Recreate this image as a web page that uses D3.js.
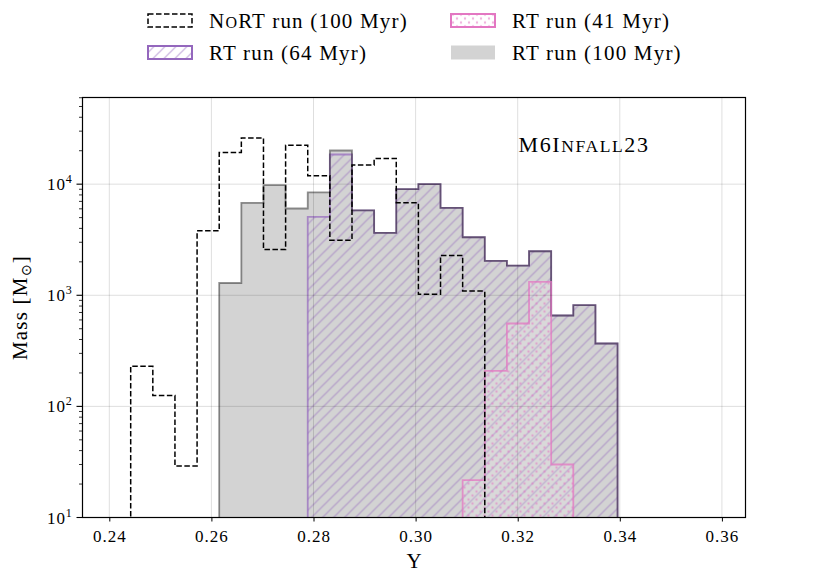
<!DOCTYPE html>
<html>
    <head>
        <script src="https://d3js.org/d3.v7.min.js"></script>
    </head>

    <body style="margin:0;background:#fff">
        <svg id="hist" width="830" height="575"></svg>
    </body>

    <script>

        // bin grid: 22 equal bins starting at binStart
        var binStart = 0.24419
        var binWidth = 0.004335
        var nBins = 22

        // masses per bin (Msun), with index of first bin
        var noRTStart = 0
        var noRT = [230, 125, 29, 3800, 19300, 26100, 2580, 22400, 11900, 3130, 14900, 17000, 6790, 1020, 2280, 1090]
        var rt100Start = 4
        var rt100 = [1290, 6790, 9800, 6040, 8420, 20100, 5800, 3650, 9020, 10000, 6120, 3330, 2040, 1850, 2490, 658, 815, 368]
        var rt64Start = 8
        var rt64 = [5080, 18500, 5800, 3650, 9020, 10000, 6120, 3330, 2040, 1850, 2490, 658, 815, 368]
        var rt41Start = 15
        var rt41 = [21.7, 209, 557, 1320, 30]

        var xTicks = [0.24, 0.26, 0.28, 0.30, 0.32, 0.34, 0.36]
        var yTicks = [10, 100, 1000, 10000]

        var legendRows = [
            { key: "nort", caps: ["N", "o", "RT"], label: " run (100 Myr)" },
            { key: "rt64", caps: null, label: "RT run (64 Myr)" },
            { key: "rt41", caps: null, label: "RT run (41 Myr)" },
            { key: "rt100", caps: null, label: "RT run (100 Myr)" }
        ]

        var margin = { top: 97.5, left: 82.5 }
        var width = 663
        var height = 420
        var font = "'Liberation Serif', serif"

        var svg = d3.select("#hist")
        var g = svg.append("g")
            .attr("transform", "translate(" + margin.left + "," + margin.top + ")")

        var x = d3.scaleLinear()
            .domain([0.23475, 0.36462])
            .range([0, width])
        var y = d3.scaleLog()
            .domain([10, 60260])
            .range([height, 0])

        var edges = d3.range(nBins + 1).map(function(k) { return binStart + k * binWidth })

        // step outline going down to below the axis at both ends
        function stepPoints(start, vals) {
            var pts = [[edges[start], 1]]
            vals.forEach(function(v, i) {
                pts.push([edges[start + i], v])
                pts.push([edges[start + i + 1], v])
            })
            pts.push([edges[start + vals.length], 1])
            return pts
        }
        var line = d3.line()
            .x(function(d) { return x(d[0]) })
            .y(function(d) { return y(d[1]) })

        var defs = svg.append("defs")
        defs.append("clipPath").attr("id", "clip")
            .append("rect").attr("width", width).attr("height", height)

        var hatch = defs.append("pattern").attr("id", "hatch")
            .attr("patternUnits", "userSpaceOnUse")
            .attr("width", 11).attr("height", 11)
        hatch.append("path")
            .attr("d", "M-1,1 l2,-2 M0,11 l11,-11 M10,12 l2,-2")
            .attr("stroke", "#9467bd").attr("stroke-opacity", 0.55).attr("stroke-width", 1.2)

        var dots = defs.append("pattern").attr("id", "dots")
            .attr("patternUnits", "userSpaceOnUse")
            .attr("width", 8).attr("height", 8)
        dots.append("circle").attr("cx", 2).attr("cy", 2).attr("r", 1.2)
            .attr("fill", "#e377c2").attr("fill-opacity", 0.55)
        dots.append("circle").attr("cx", 6).attr("cy", 6).attr("r", 1.2)
            .attr("fill", "#e377c2").attr("fill-opacity", 0.55)

        var plot = g.append("g").attr("clip-path", "url(#clip)")

        // RT 100 Myr filled grey
        plot.append("path")
            .attr("d", line(stepPoints(rt100Start, rt100)))
            .attr("fill", "#d3d3d3")
        // hatched / dotted faces
        plot.append("path")
            .attr("d", line(stepPoints(rt64Start, rt64)))
            .attr("fill", "url(#hatch)")
        plot.append("path")
            .attr("d", line(stepPoints(rt41Start, rt41)))
            .attr("fill", "rgba(255,255,255,0.15)")
        plot.append("path")
            .attr("d", line(stepPoints(rt41Start, rt41)))
            .attr("fill", "url(#dots)")

        // outlines
        plot.append("path")
            .attr("d", line(stepPoints(rt64Start, rt64)))
            .attr("fill", "none")
            .attr("stroke", "#9467bd").attr("stroke-opacity", 0.7).attr("stroke-width", 1.8)
        plot.append("path")
            .attr("d", line(stepPoints(rt100Start, rt100)))
            .attr("fill", "none")
            .attr("stroke", "#929292").attr("stroke-width", 1.8)
            .style("mix-blend-mode", "multiply")
        plot.append("path")
            .attr("d", line(stepPoints(rt41Start, rt41)))
            .attr("fill", "none")
            .attr("stroke", "#e377c2").attr("stroke-opacity", 0.75).attr("stroke-width", 1.8)

        // grid
        g.append("g").selectAll("line").data(xTicks).enter().append("line")
            .attr("x1", function(d) { return x(d) }).attr("x2", function(d) { return x(d) })
            .attr("y1", 0).attr("y2", height)
            .attr("stroke", "#000").attr("stroke-opacity", 0.13)
        g.append("g").selectAll("line").data(yTicks.slice(1)).enter().append("line")
            .attr("y1", function(d) { return y(d) }).attr("y2", function(d) { return y(d) })
            .attr("x1", 0).attr("x2", width)
            .attr("stroke", "#000").attr("stroke-opacity", 0.13)

        // NoRT dashed step
        plot.append("path")
            .attr("d", line(stepPoints(noRTStart, noRT)))
            .attr("fill", "none")
            .attr("stroke", "#000").attr("stroke-width", 1.5)
            .attr("stroke-dasharray", "5.5,2.5")

        // frame
        g.append("rect").attr("width", width).attr("height", height)
            .attr("fill", "none").attr("stroke", "#000").attr("stroke-width", 1.2)

        // x axis
        var xAxis = g.append("g")
            .attr("transform", "translate(0," + height + ")")
            .call(d3.axisBottom(x).tickValues(xTicks).tickFormat(d3.format(".2f")).tickSize(4))
        xAxis.select(".domain").remove()
        xAxis.selectAll("text")
            .attr("font-family", font).attr("font-size", 17).attr("fill", "#000")
            .attr("letter-spacing", 1).attr("dy", "1.05em")

        // y axis: major + minor ticks
        var minor = []
        yTicks.concat([100000]).forEach(function(p) {
            for (var m = 2; m <= 9; m++) {
                if (p * m < 60260 && p * m > 10) minor.push(p * m)
            }
        })
        var yAxis = g.append("g")
        yAxis.selectAll(".maj").data(yTicks).enter().append("line")
            .attr("x1", -6).attr("x2", 0)
            .attr("y1", function(d) { return y(d) }).attr("y2", function(d) { return y(d) })
            .attr("stroke", "#000").attr("stroke-width", 1.1)
        yAxis.selectAll(".min").data(minor).enter().append("line")
            .attr("x1", -3.5).attr("x2", 0)
            .attr("y1", function(d) { return y(d) }).attr("y2", function(d) { return y(d) })
            .attr("stroke", "#000").attr("stroke-width", 0.8)
        var yLab = yAxis.selectAll(".lab").data(yTicks).enter().append("text")
            .attr("x", -10)
            .attr("y", function(d) { return y(d) + 6 })
            .attr("text-anchor", "end")
            .attr("font-family", font).attr("font-size", 17).attr("letter-spacing", 0.8)
        yLab.append("tspan").text("10")
        yLab.append("tspan").attr("dy", -7).attr("font-size", 12)
            .text(function(d) { return Math.round(Math.log10(d)) })

        // axis labels
        g.append("text")
            .attr("x", width / 2).attr("y", height + 50)
            .attr("text-anchor", "middle")
            .attr("font-family", font).attr("font-size", 21)
            .text("Y")
        var ml = svg.append("text")
            .attr("transform", "translate(27," + (margin.top + height / 2) + ") rotate(-90)")
            .attr("text-anchor", "middle")
            .attr("font-family", font).attr("font-size", 21).attr("letter-spacing", 1.2)
        ml.append("tspan").text("Mass [M")
        ml.append("tspan").attr("font-size", 14).attr("dy", 4).text("\u2299")
        ml.append("tspan").attr("dy", -4).text("]")

        // run label (small caps done by hand)
        var title = g.append("text")
            .attr("x", 436).attr("y", 54)
            .attr("font-family", font).attr("font-size", 22).attr("letter-spacing", 1.6)
        title.append("tspan").text("M6I")
        title.append("tspan").attr("font-size", 17.5).text("NFALL")
        title.append("tspan").text("23")

        // legend
        var legend = svg.append("g")
        legendRows.forEach(function(r, i) {
            var cx = i < 2 ? 148 : 451
            var cy = i % 2 === 0 ? 20.5 : 52.5
            var hg = legend.append("g").attr("transform", "translate(" + cx + "," + cy + ")")
            if (r.key === "nort") {
                hg.append("rect").attr("x", 0).attr("y", -6.5).attr("width", 44).attr("height", 13)
                    .attr("fill", "none").attr("stroke", "#000").attr("stroke-width", 1.5)
                    .attr("stroke-dasharray", "5.5,2.5")
            } else if (r.key === "rt64") {
                hg.append("rect").attr("x", 0).attr("y", -6.5).attr("width", 44).attr("height", 13)
                    .attr("fill", "url(#hatch)")
                hg.append("rect").attr("x", 0).attr("y", -6.5).attr("width", 44).attr("height", 13)
                    .attr("fill", "none").attr("stroke", "#9467bd").attr("stroke-width", 2)
            } else if (r.key === "rt41") {
                hg.append("rect").attr("x", 0).attr("y", -6.5).attr("width", 44).attr("height", 13)
                    .attr("fill", "url(#dots)")
                hg.append("rect").attr("x", 0).attr("y", -6.5).attr("width", 44).attr("height", 13)
                    .attr("fill", "none").attr("stroke", "#e377c2").attr("stroke-width", 2)
            } else {
                hg.append("rect").attr("x", 0).attr("y", -7).attr("width", 44).attr("height", 14)
                    .attr("fill", "#d3d3d3")
            }
            var t = hg.append("text").attr("x", 61).attr("y", 7)
                .attr("font-family", font).attr("font-size", 21).attr("letter-spacing", 1.2)
            if (r.caps) {
                t.append("tspan").text(r.caps[0])
                t.append("tspan").attr("font-size", 16).text(r.caps[1].toUpperCase())
                t.append("tspan").text(r.caps[2])
            }
            t.append("tspan").text(r.label)
        })
    </script>
</html>
